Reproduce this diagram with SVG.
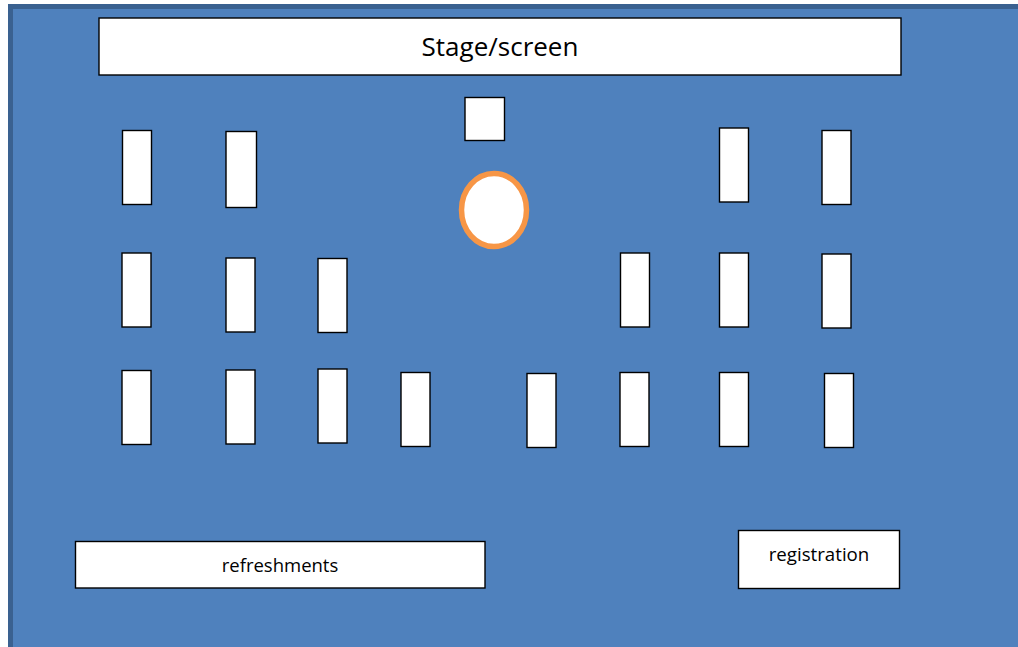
<svg xmlns="http://www.w3.org/2000/svg" width="1018" height="647" viewBox="0 0 1018 647">
<style>
.b{fill:#fff;stroke:#000;stroke-width:1.4}
text{font-family:"Open Sans","Noto Sans",sans-serif;fill:#000;text-anchor:middle}
</style>
<rect width="1018" height="647" fill="#fff"/>
<g id="floor"><rect x="8" y="4" width="1010" height="643" fill="#3a6190"/><rect x="13" y="9" width="1005" height="638" fill="#4f81bd"/></g>
<g id="stage"><rect class="b" x="99" y="18" width="802" height="57"/><text x="500" y="56" font-size="26">Stage/screen</text></g>
<g id="podium"><rect class="b" x="465" y="97.500" width="39.500" height="43"/></g>
<g id="round-table"><ellipse cx="494" cy="210" rx="32.500" ry="36.500" fill="#fff" stroke="#f79646" stroke-width="5.500"/></g>
<g id="t1"><rect class="b" x="122.500" y="130.500" width="29" height="74"/></g>
<g id="t2"><rect class="b" x="226" y="131.500" width="30.500" height="76"/></g>
<g id="t3"><rect class="b" x="719.500" y="128" width="29" height="74"/></g>
<g id="t4"><rect class="b" x="822" y="130.500" width="29" height="74"/></g>
<g id="t5"><rect class="b" x="122" y="253" width="29" height="74"/></g>
<g id="t6"><rect class="b" x="226" y="258" width="29" height="74"/></g>
<g id="t7"><rect class="b" x="318" y="258.500" width="29" height="74"/></g>
<g id="t8"><rect class="b" x="620.500" y="253" width="29" height="74"/></g>
<g id="t9"><rect class="b" x="719.500" y="253" width="29" height="74"/></g>
<g id="t10"><rect class="b" x="822" y="254" width="29" height="74"/></g>
<g id="t11"><rect class="b" x="122" y="370.500" width="29" height="74"/></g>
<g id="t12"><rect class="b" x="226" y="370" width="29" height="74"/></g>
<g id="t13"><rect class="b" x="318" y="369" width="29" height="74"/></g>
<g id="t14"><rect class="b" x="401" y="372.500" width="29" height="74"/></g>
<g id="t15"><rect class="b" x="527" y="373.500" width="29" height="74"/></g>
<g id="t16"><rect class="b" x="620" y="372.500" width="29" height="74"/></g>
<g id="t17"><rect class="b" x="719.500" y="372.500" width="29" height="74"/></g>
<g id="t18"><rect class="b" x="824.500" y="373.500" width="29" height="74"/></g>
<g id="refreshments"><rect class="b" x="75.500" y="541.500" width="409.500" height="46.500"/><text x="280" y="572" font-size="18.500">refreshments</text></g>
<g id="registration"><rect class="b" x="738.500" y="530.500" width="161" height="58"/><text x="819" y="561" font-size="18.700">registration</text></g>
<g id="connectors"/>
</svg>
